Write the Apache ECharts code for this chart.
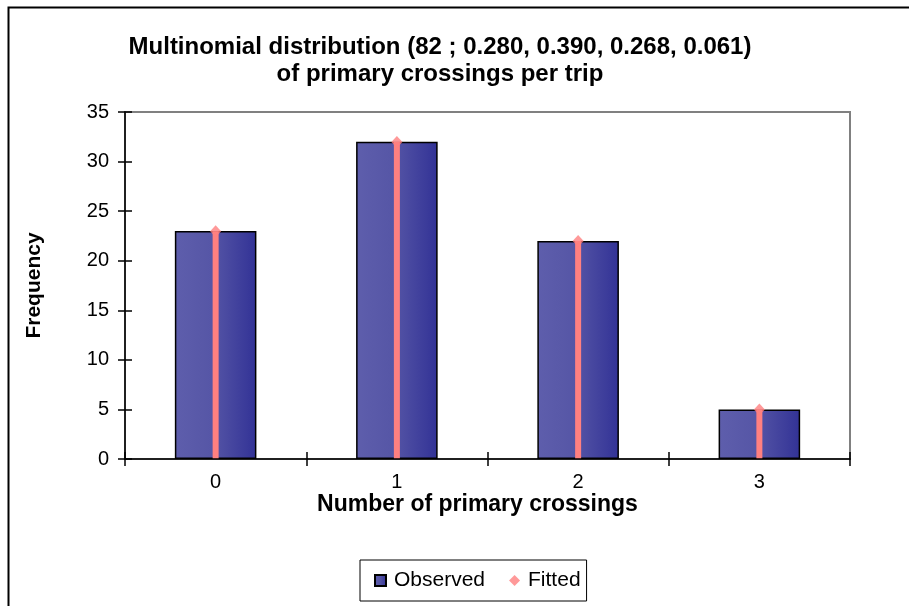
<!DOCTYPE html>
<html>
<head>
<meta charset="utf-8">
<script src="https://cdn.jsdelivr.net/npm/echarts@6/dist/echarts.min.js"></script>
<style>
  html, body { margin: 0; padding: 0; background: #fff; }
  #chart { width: 909px; height: 606px; }
</style>
</head>
<body>
<div id="chart"></div>
<script>
// Number of primary crossings per trip
const categories = ['0', '1', '2', '3'];
// Observed trip counts
const observed = [23, 32, 22, 5];
// Expected counts under the fitted multinomial (n = 82)
const fitted = [22.96, 31.98, 21.98, 5.00];
const yTicks = { min: 0, max: 35, step: 5 };

const FONT = '"Liberation Sans", Arial, sans-serif';
const PINK = '#FF8080';

const chart = echarts.init(document.getElementById('chart'), null, { renderer: 'canvas' });

const barFill = new echarts.graphic.LinearGradient(0, 0, 1, 0, [
  { offset: 0, color: '#5E5EAC' },
  { offset: 0.45, color: '#5656A6' },
  { offset: 1, color: '#323296' }
]);

chart.setOption({
  backgroundColor: '#fff',
  animation: false,
  textStyle: { fontFamily: FONT, color: '#000' },
  graphic: [{
    type: 'rect',
    silent: true,
    shape: { x: 8.5, y: 7.5, width: 1200, height: 1200 },
    style: { fill: 'none', stroke: '#000', lineWidth: 2 }
  }],
  title: {
    text: 'Multinomial distribution (82 ; 0.280, 0.390, 0.268, 0.061)\nof primary crossings per trip',
    left: 435,
    top: 29,
    textAlign: 'center',
    textStyle: { fontFamily: FONT, fontSize: 24, fontWeight: 'bold', color: '#000', lineHeight: 27 }
  },
  legend: {
    data: [
      { name: 'Observed', icon: 'rect' },
      { name: 'Fitted', icon: 'diamond' }
    ],
    left: 360,
    top: 560,
    orient: 'horizontal',
    itemWidth: 11,
    itemHeight: 11,
    itemGap: 24,
    padding: [10, 6, 10, 14],
    borderColor: '#000',
    borderWidth: 1,
    textStyle: { fontFamily: FONT, fontSize: 21, color: '#000', padding: [0, 0, 0, 3] }
  },
  grid: {
    left: 125, right: 59, top: 112, bottom: 147,
    show: true,
    borderColor: '#808080',
    borderWidth: 2,
    backgroundColor: '#fff'
  },
  xAxis: [{
    type: 'category',
    data: categories,
    axisLine: { lineStyle: { color: '#000', width: 1.5 } },
    axisTick: { show: true, inside: false, length: 7, lineStyle: { color: '#000', width: 1.5 } },
    axisLabel: { fontFamily: FONT, fontSize: 20, color: '#000', margin: 13 },
    name: 'Number of primary crossings',
    nameLocation: 'middle',
    nameGap: 34,
    nameMoveOverlap: false,
    nameTextStyle: { fontFamily: FONT, fontSize: 23, fontWeight: 'bold', color: '#000', padding: [0, 20, 0, 0] },
    z: 5
  }, {
    type: 'category',
    data: categories,
    position: 'bottom',
    axisLine: { show: false },
    axisTick: { show: true, inside: true, length: 7, lineStyle: { color: '#000', width: 1.5 } },
    axisLabel: { show: false },
    z: 5
  }],
  yAxis: [{
    type: 'value',
    min: yTicks.min,
    max: yTicks.max,
    interval: yTicks.step,
    axisLine: { show: true, lineStyle: { color: '#000', width: 1.5 } },
    axisTick: { show: true, inside: false, length: 7, lineStyle: { color: '#000', width: 1.5 } },
    axisLabel: { fontFamily: FONT, fontSize: 20, color: '#000', margin: 16 },
    splitLine: { show: false },
    name: 'Frequency',
    nameLocation: 'middle',
    nameRotate: 90,
    nameGap: 80,
    nameMoveOverlap: false,
    nameTextStyle: { fontFamily: FONT, fontSize: 21, fontWeight: 'bold', color: '#000' },
    z: 5
  }, {
    type: 'value',
    min: yTicks.min,
    max: yTicks.max,
    interval: yTicks.step,
    position: 'left',
    axisLine: { show: false },
    axisTick: { show: true, inside: true, length: 7, lineStyle: { color: '#000', width: 1.5 } },
    axisLabel: { show: false },
    splitLine: { show: false },
    z: 5
  }],
  series: [{
    name: 'Observed',
    type: 'bar',
    data: observed,
    barWidth: '45%',
    itemStyle: { color: barFill, borderColor: '#000', borderWidth: 1.5 },
    z: 2
  }, {
    name: 'Fitted stem',
    type: 'bar',
    xAxisIndex: 1,
    data: fitted,
    barWidth: 6,
    itemStyle: { color: PINK },
    z: 3
  }, {
    name: 'Fitted',
    type: 'scatter',
    data: fitted,
    symbol: 'diamond',
    symbolSize: [11, 12],
    itemStyle: { color: PINK },
    z: 4
  }]
});
</script>
</body>
</html>
